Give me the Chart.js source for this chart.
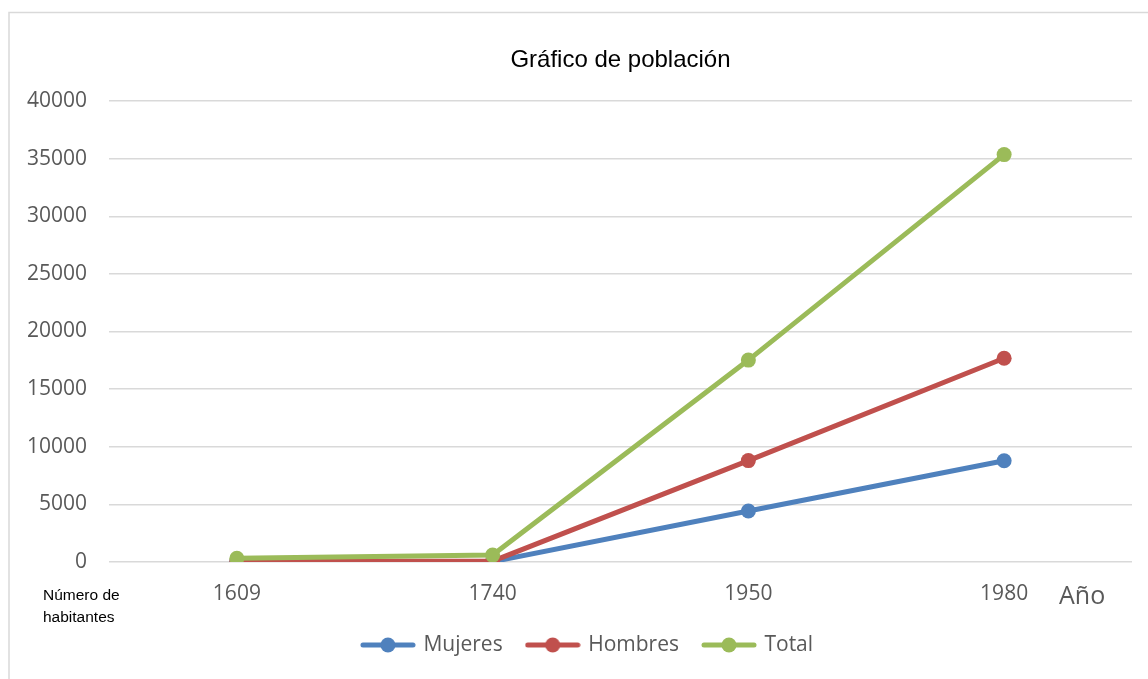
<!DOCTYPE html>
<html>
<head>
<meta charset="utf-8">
<script src="https://cdn.jsdelivr.net/npm/chart.js@4/dist/chart.umd.min.js"></script>
<style>
  html, body { margin: 0; padding: 0; background: #ffffff; }
  #wrap { width: 1148px; height: 679px; position: relative; }
</style>
</head>
<body>
<div id="wrap"><canvas id="c" width="1148" height="679"></canvas></div>
<script>
// ---- data ----
const years = ['1609', '1740', '1950', '1980'];
const mujeres = [40, 30, 4420, 8780];
const hombres = [90, 70, 8800, 17680];
const total = [320, 600, 17520, 35350];
const yTicks = [0, 5000, 10000, 15000, 20000, 25000, 30000, 35000, 40000];
const titleText = 'Gráfico de población';
const xAxisLabel = 'Año';
const yAxisLabel = ['Número de', 'habitantes'];
const seriesNames = ['Mujeres', 'Hombres', 'Total'];
const seriesColors = ['#4F81BD', '#C0504D', '#9BBB59'];

const tickFont = { family: '"Open Sans", sans-serif', size: 21 };
const textGray = '#595959';

function legendImage(color) {
  const cv = document.createElement('canvas');
  cv.width = 56; cv.height = 16;
  const g = cv.getContext('2d');
  g.strokeStyle = color; g.lineWidth = 5; g.lineCap = 'round';
  g.beginPath(); g.moveTo(3, 8); g.lineTo(53, 8); g.stroke();
  g.fillStyle = color;
  g.beginPath(); g.arc(28, 8, 7.5, 0, Math.PI * 2); g.fill();
  return cv;
}
const legendImgs = seriesColors.map(legendImage);

const extras = {
  id: 'extras',
  afterLayout(chart) {
    const lg = chart.legend;
    if (lg) { lg.left += 22; lg.right += 22; }
  },
  afterDraw(chart) {
    const ctx = chart.ctx;
    ctx.save();
    // outer frame
    ctx.strokeStyle = '#d9d9d9';
    ctx.lineWidth = 1.5;
    ctx.strokeRect(9, 12.5, 1300, 1000);
    // axis name "Año"
    ctx.fillStyle = textGray;
    ctx.font = '25px "Open Sans", sans-serif';
    ctx.textAlign = 'left';
    ctx.textBaseline = 'middle';
    ctx.fillText(xAxisLabel, 1059, 597);
    // axis name "Número de habitantes"
    ctx.fillStyle = '#000000';
    ctx.font = '15.5px "Liberation Sans", Arial, sans-serif';
    ctx.fillText(yAxisLabel[0], 43, 596);
    ctx.fillText(yAxisLabel[1], 43, 618);
    ctx.restore();
  }
};

const datasets = [mujeres, hombres, total].map((d, i) => ({
  label: seriesNames[i],
  data: d,
  borderColor: seriesColors[i],
  backgroundColor: seriesColors[i],
  borderWidth: 5,
  pointRadius: 7.5,
  pointHoverRadius: 7.5,
  pointBorderWidth: 0,
  pointBackgroundColor: seriesColors[i],
  tension: 0,
  order: 3 - i
}));

new Chart(document.getElementById('c'), {
  type: 'line',
  data: { labels: years, datasets },
  options: {
    responsive: false,
    animation: false,
    events: [],
    layout: { padding: { left: 0, right: 16, top: 0, bottom: 13.5 } },
    plugins: {
      tooltip: { enabled: false },
      title: {
        display: true,
        text: titleText,
        fullSize: false,
        color: '#000000',
        font: { family: '"Liberation Sans", Arial, sans-serif', size: 24, weight: 'normal', lineHeight: 1.2 },
        padding: { top: 45.6, bottom: 26.6 }
      },
      legend: {
        position: 'bottom',
        labels: {
          usePointStyle: true,
          pointStyleWidth: 50,
          padding: 25,
          color: textGray,
          font: tickFont,
          generateLabels(chart) {
            return chart.data.datasets.map((ds, i) => ({
              text: ds.label,
              pointStyle: legendImgs[i],
              fillStyle: ds.borderColor,
              strokeStyle: ds.borderColor,
              lineWidth: 0,
              fontColor: textGray,
              hidden: false,
              datasetIndex: i
            }));
          }
        }
      }
    },
    scales: {
      x: {
        offset: true,
        grid: { display: false, drawTicks: false },
        border: { display: false },
        ticks: { color: textGray, font: tickFont, padding: 19, maxRotation: 0 },
        afterFit(scale) { scale.height = 47.5; }
      },
      y: {
        min: 0,
        max: 40000,
        afterBuildTicks(scale) { scale.ticks = yTicks.map(v => ({ value: v })); },
        grid: { color: '#d9d9d9', lineWidth: 1.5, drawTicks: false },
        border: { display: false },
        ticks: { color: textGray, font: tickFont, padding: 22, callback: v => String(v) },
        afterFit(scale) { scale.width = 109; }
      }
    }
  },
  plugins: [extras]
});
</script>
</body>
</html>
